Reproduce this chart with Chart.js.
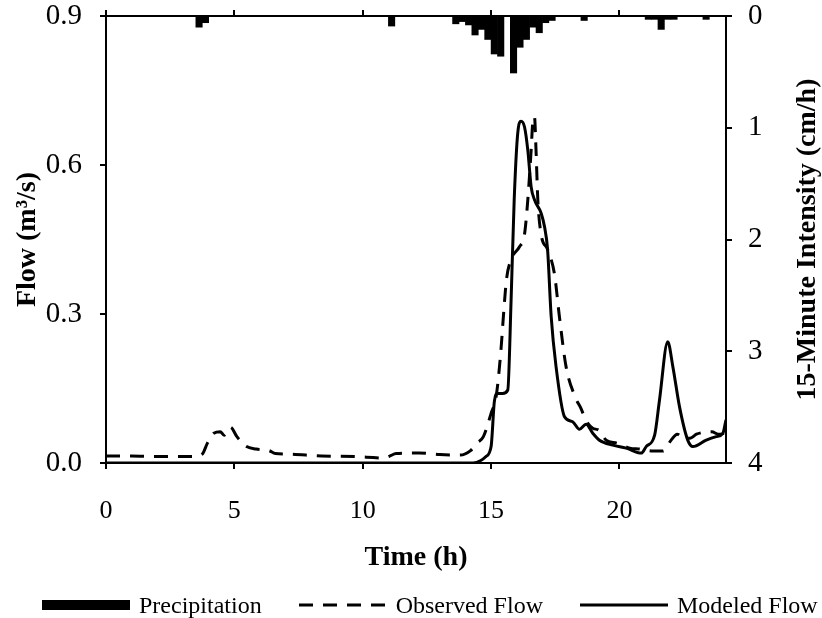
<!DOCTYPE html>
<html>
<head>
<meta charset="utf-8">
<script src="https://cdn.jsdelivr.net/npm/chart.js@4.4.1/dist/chart.umd.min.js"></script>
<style>
  body { margin: 0; background: #fff; }
  #wrap { position: relative; width: 822px; height: 618px; }
  #legend { position: absolute; left: 42px; top: 590px; display: flex; align-items: center;
            font: 24px "Liberation Serif", serif; line-height: 30px; color: #000; white-space: nowrap; }
  .item { display: flex; align-items: center; margin-right: 37px; }
  .item svg { margin-right: 9px; }
</style>
</head>
<body>
<div id="wrap">
  <canvas id="chart" width="822" height="618"></canvas>
  <div id="legend"></div>
</div>
<script>
// observed flow (m3/s)
const obsTime = [0, 1, 2, 3, 3.4, 3.75, 3.95, 4.2, 4.45, 4.6, 4.85, 5.1, 5.45, 5.85, 6.35, 6.6, 7.1, 8.4, 9.7,
  10.4, 10.8, 11.05, 11.3, 12.2, 13.0, 13.8, 14.2, 14.45, 14.7, 15.0, 15.2, 15.38, 15.5, 15.6, 15.78, 16.1,
  16.3, 16.43, 16.56, 16.63, 16.69, 16.75, 16.82, 16.95, 17.2, 17.47, 17.66, 17.92, 18.3, 18.5, 18.7, 18.96,
  19.2, 19.48, 19.9, 20.4, 20.8, 21.3, 21.7, 22.0, 22.25, 22.5, 22.75, 23.0, 23.3, 23.6, 23.85, 24.15];
const obsFlow = [0.014, 0.014, 0.013, 0.013, 0.013, 0.018, 0.040, 0.060, 0.063, 0.056, 0.072, 0.053, 0.034,
  0.028, 0.025, 0.019, 0.018, 0.014, 0.013, 0.011, 0.010, 0.014, 0.019, 0.020, 0.017, 0.016, 0.025, 0.040,
  0.053, 0.100, 0.135, 0.225, 0.310, 0.370, 0.410, 0.435, 0.460, 0.530, 0.630, 0.690, 0.697, 0.630, 0.530,
  0.460, 0.430, 0.380, 0.295, 0.194, 0.130, 0.110, 0.085, 0.070, 0.066, 0.046, 0.040, 0.030, 0.028, 0.024,
  0.024, 0.045, 0.058, 0.050, 0.050, 0.058, 0.062, 0.063, 0.058, 0.060];

// modeled flow (m3/s), solid curve
const modTime = [0, 14.3, 14.6, 14.8, 15.0, 15.13, 15.25, 15.45, 15.65, 15.78, 15.9, 16.04, 16.17, 16.3, 16.43,
  16.56, 16.69, 16.95, 17.08, 17.2, 17.34, 17.53, 17.86, 18.18, 18.44, 18.7, 18.96, 19.22, 19.74, 20.26,
  20.85, 21.04, 21.37, 21.56, 21.88, 22.08, 22.34, 22.66, 22.86, 23.38, 23.77, 24.03, 24.15];
const modFlow = [0, 0, 0.005, 0.013, 0.033, 0.125, 0.140, 0.140, 0.147, 0.330, 0.530, 0.665, 0.688, 0.677,
  0.630, 0.556, 0.530, 0.503, 0.476, 0.430, 0.295, 0.194, 0.093, 0.083, 0.068, 0.078, 0.060, 0.046, 0.036,
  0.030, 0.020, 0.033, 0.056, 0.127, 0.244, 0.194, 0.113, 0.046, 0.033, 0.046, 0.053, 0.060, 0.087];

// 15-minute rainfall intensity (cm/h), start time of each interval
const rainStart = [3.5, 3.75, 11.0, 13.5, 13.75, 14.0, 14.25, 14.5, 14.75, 15.0, 15.25, 15.5, 15.75, 16.0,
  16.25, 16.5, 16.75, 17.0, 17.25, 18.5, 21.0, 21.25, 21.5, 21.75, 22.0, 23.25];
const rainRate = [0.10, 0.06, 0.09, 0.07, 0.05, 0.08, 0.17, 0.12, 0.21, 0.34, 0.36, 0, 0.51, 0.28,
  0.21, 0.10, 0.15, 0.06, 0.04, 0.04, 0.03, 0.03, 0.12, 0.03, 0.03, 0.03];

const timeTicks = [0, 5, 10, 15, 20];
const flowTicks = [0, 0.3, 0.6, 0.9];
const rateTicks = [0, 1, 2, 3, 4];

const serif = "'Liberation Serif', 'Times New Roman', serif";
const xTickFont = { family: serif, size: 26 };
const yTickFont = { family: serif, size: 29 };
const titleFont = { family: serif, size: 28, weight: 'bold' };
const grid = { drawOnChartArea: false, offset: false, color: '#000', lineWidth: 2, tickLength: 6 };
const border = { display: true, color: '#000', width: 2 };

function pinTicks(list) {
  return function (scale) { scale.ticks = list.map(v => ({ value: v })); };
}

// fixed box sizes so the plot area lines up with the reference frame
function fixSize(prop, size) {
  return function (scale) {
    scale[prop] = size;
    scale.paddingTop = scale.paddingBottom = scale.paddingLeft = scale.paddingRight = 0;
  };
}

// right axis title reads bottom-to-top like the left one
const rightTitle = {
  id: 'rightTitle',
  afterDraw(chart) {
    const s = chart.scales.y1;
    const ctx = chart.ctx;
    ctx.save();
    ctx.translate(s.right - 14, (s.top + s.bottom) / 2);
    ctx.rotate(-Math.PI / 2);
    ctx.font = 'bold 28px ' + serif;
    ctx.fillStyle = '#000';
    ctx.textAlign = 'center';
    ctx.textBaseline = 'middle';
    ctx.fillText('15-Minute Intensity (cm/h)', 0, 0);
    ctx.restore();
  }
};

const chart = new Chart(document.getElementById('chart'), {
  type: 'line',
  data: {
    datasets: [
      {
        type: 'bar',
        label: 'Precipitation',
        data: rainStart.map((t, i) => ({ x: t + 0.125, y: rainRate[i] })),
        xAxisID: 'x',
        yAxisID: 'y1',
        backgroundColor: '#000',
        borderWidth: 0,
        barPercentage: 1,
        categoryPercentage: 1
      },
      {
        label: 'Observed Flow',
        data: obsTime.map((t, i) => ({ x: t, y: obsFlow[i] })),
        yAxisID: 'y',
        borderColor: '#000',
        borderWidth: 3,
        borderDash: [14, 10],
        pointRadius: 0,
        cubicInterpolationMode: 'monotone',
        fill: false
      },
      {
        label: 'Modeled Flow',
        data: modTime.map((t, i) => ({ x: t, y: modFlow[i] })),
        yAxisID: 'y',
        borderColor: '#000',
        borderWidth: 3,
        pointRadius: 0,
        cubicInterpolationMode: 'monotone',
        fill: false
      }
    ]
  },
  options: {
    responsive: false,
    animation: false,
    devicePixelRatio: 1,
    layout: { padding: 0, autoPadding: false },
    plugins: { legend: { display: false }, tooltip: { enabled: false } },
    scales: {
      x: {
        type: 'linear', position: 'bottom', min: 0, max: 24.15, offset: false,
        afterBuildTicks: pinTicks(timeTicks),
        afterFit: fixSize('height', 155),
        grid: grid, border: border,
        ticks: { font: xTickFont, color: '#000', padding: 27, maxRotation: 0 },
        title: { display: true, text: 'Time (h)', font: titleFont, color: '#000', padding: { top: 0, bottom: 43 } }
      },
      xTop: {
        type: 'linear', position: 'top', min: 0, max: 24.15, offset: false,
        afterBuildTicks: pinTicks(timeTicks),
        afterFit: fixSize('height', 16),
        grid: grid, border: border,
        ticks: { display: false }
      },
      y: {
        type: 'linear', position: 'left', min: 0, max: 0.9,
        afterBuildTicks: pinTicks(flowTicks),
        afterFit: fixSize('width', 106),
        grid: grid, border: border,
        ticks: { font: yTickFont, color: '#000', padding: 18, callback: v => v.toFixed(1) },
        title: { display: true, text: 'Flow (m³/s)', font: titleFont, color: '#000', padding: { top: 11, bottom: 0 } }
      },
      y1: {
        type: 'linear', position: 'right', min: 0, max: 4, reverse: true,
        afterBuildTicks: pinTicks(rateTicks),
        afterFit: fixSize('width', 96),
        grid: grid, border: border,
        ticks: { font: yTickFont, color: '#000', padding: 16 }
      }
    }
  },
  plugins: [rightTitle]
});

// HTML legend from the datasets
const legend = document.getElementById('legend');
chart.data.datasets.forEach(ds => {
  const item = document.createElement('div');
  item.className = 'item';
  let mark;
  if (ds.type === 'bar') {
    mark = '<svg width="88" height="12"><rect x="0" y="1" width="88" height="10" fill="#000"/></svg>';
  } else {
    const dash = ds.borderDash ? ' stroke-dasharray="' + ds.borderDash.join(' ') + '"' : '';
    mark = '<svg width="88" height="12"><line x1="0" y1="6" x2="88" y2="6" stroke="#000" stroke-width="3"' + dash + '/></svg>';
  }
  item.innerHTML = mark + '<span>' + ds.label + '</span>';
  legend.appendChild(item);
});
</script>
</body>
</html>
